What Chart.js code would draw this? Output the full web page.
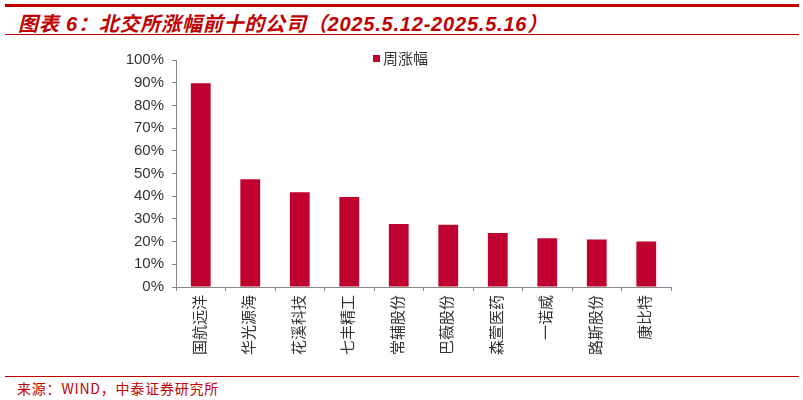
<!DOCTYPE html>
<html>
<head>
<meta charset="utf-8">
<script src="https://cdn.jsdelivr.net/npm/chart.js@4"></script>
<style>
    body { margin: 0; background: #fff; width: 803px; height: 400px; position: relative; overflow: hidden; }
    .top-rule { position: absolute; left: 5px; right: 4px; top: 4px; height: 3px; background: #C00000; }
    .title {
        position: absolute; left: 18px; top: 8px;
        font: italic bold 20px "Liberation Sans", "Noto Sans CJK SC", sans-serif;
        letter-spacing: 0.8px;
        color: #C00000; white-space: nowrap;
    }
    .title-rule { position: absolute; left: 5px; right: 4px; top: 34px; height: 1px; background: #C00000; }
    .legend {
        position: absolute; left: 373px; top: 47px;
        font: 15px "Liberation Sans", "Noto Sans CJK SC", sans-serif; color: #333;
    }
    .legend i { display: inline-block; width: 7px; height: 7px; background: #C0002F; margin-right: 3px; vertical-align: 2px; }
    .foot-rule { position: absolute; left: 5px; right: 4px; top: 376px; height: 1px; background: #C00000; }
    .source {
        position: absolute; left: 17px; top: 378px;
        font: 14px "Noto Sans CJK SC", sans-serif; letter-spacing: 0.8px; color: #C00000;
    }
    #chartBox { position: absolute; left: 0; top: 40px; width: 803px; height: 335px; }
</style>
</head>
<body>
<div class="top-rule"></div>
<div class="title">图表 6：北交所涨幅前十的公司（2025.5.12-2025.5.16）</div>
<div class="title-rule"></div>
<div id="chartBox"><canvas id="barChart"></canvas></div>
<div class="legend"><i></i>周涨幅</div>
<div class="foot-rule"></div>
<div class="source">来源：WIND，中泰证券研究所</div>

<script>
// --- Data ---
const companies = ['国航远洋', '华光源海', '花溪科技', '七丰精工', '常辅股份', '巴薇股份', '森萱医药', '一诺威', '路斯股份', '康比特'];
const weeklyGain = [89.8, 47.5, 41.7, 39.7, 27.8, 27.4, 23.8, 21.5, 20.9, 20.0];
const yTicks = [0, 10, 20, 30, 40, 50, 60, 70, 80, 90, 100];

const axisGray = '#888';
const tickFont = { family: '"Liberation Sans", "Noto Sans CJK SC", sans-serif', size: 15 };

new Chart(document.getElementById('barChart'), {
    type: 'bar',
    data: {
        labels: companies,
        datasets: [{
            label: '周涨幅',
            data: weeklyGain,
            backgroundColor: '#C0002F',
            barPercentage: 0.4,
            categoryPercentage: 1.0,
        }],
    },
    options: {
        responsive: true,
        maintainAspectRatio: false,
        animation: false,
        layout: { padding: { top: 20, right: 132, bottom: 0, left: 0 } },
        plugins: {
            legend: { display: false },
            tooltip: { enabled: false },
        },
        scales: {
            x: {
                offset: true,
                grid: { offset: true, drawOnChartArea: false, drawTicks: true, tickLength: 4, color: axisGray },
                border: { color: axisGray, width: 1 },
                ticks: { color: '#333', font: tickFont, minRotation: 90, maxRotation: 90, padding: 4 },
                afterFit: s => { s.height = 88; },
            },
            y: {
                min: 0,
                max: 100,
                afterBuildTicks: s => { s.ticks = yTicks.map(v => ({ value: v })); },
                grid: { drawOnChartArea: false, drawTicks: true, tickLength: 4, color: axisGray },
                border: { color: axisGray, width: 1 },
                ticks: { color: '#333', font: tickFont, padding: 8, callback: v => v + '%' },
                afterFit: s => { s.width = 176; },
            },
        },
    },
});
</script>
</body>
</html>
